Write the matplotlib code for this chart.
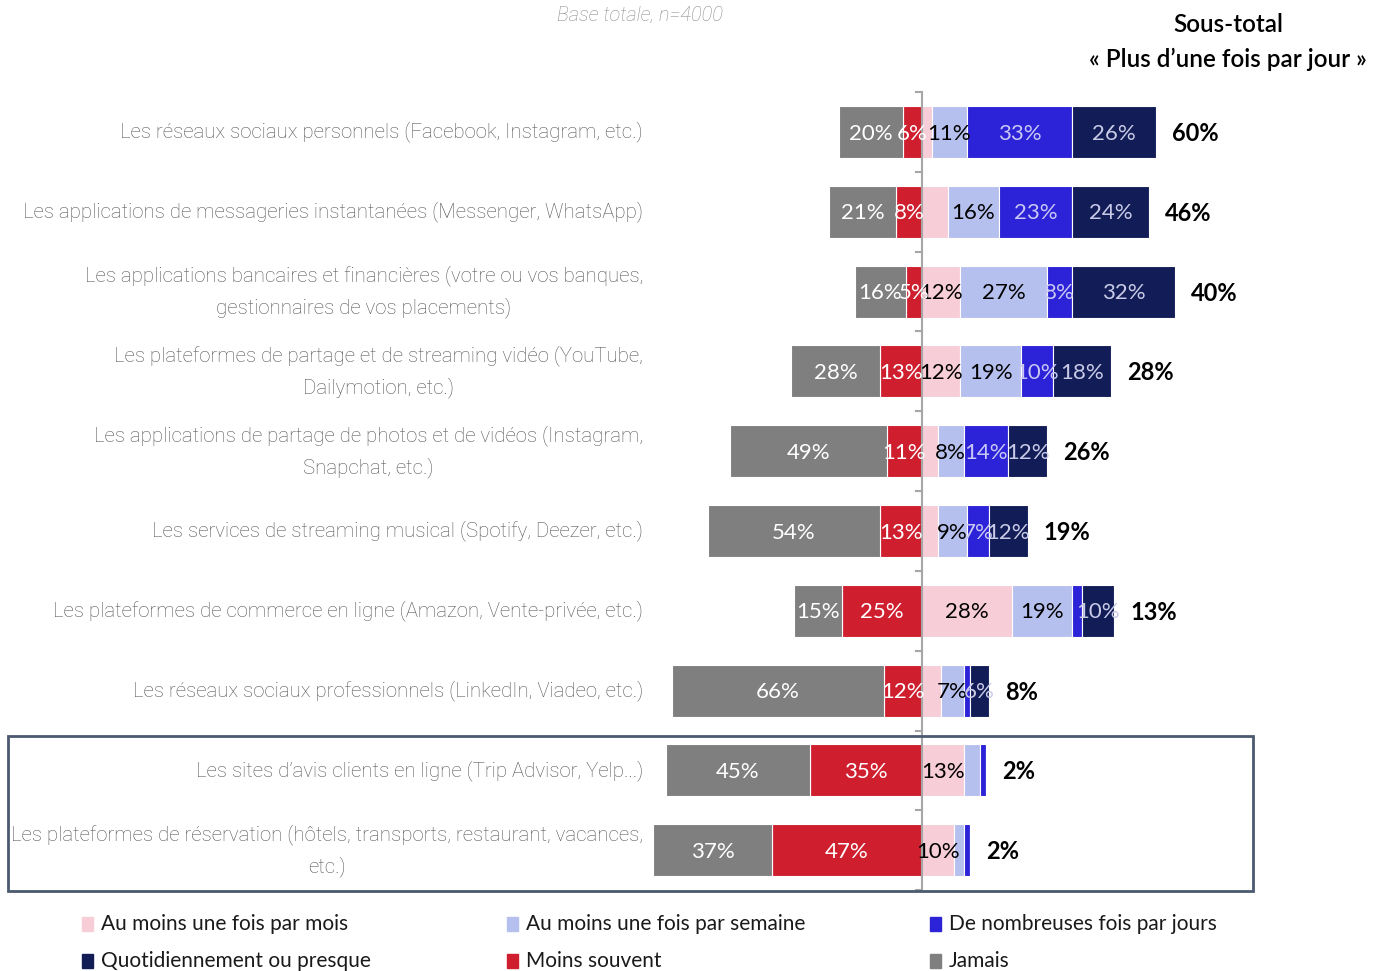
import matplotlib.pyplot as plt
from matplotlib.patches import Rectangle
import numpy as np

plt.rcParams['font.family'] = ['Lato', 'DejaVu Sans']

# Données (en %)
categories = [
    "Les réseaux sociaux personnels (Facebook, Instagram, etc.)",
    "Les applications de messageries instantanées (Messenger, WhatsApp)",
    "Les applications bancaires et financières (votre ou vos banques,\ngestionnaires de vos placements)",
    "Les plateformes de partage et de streaming vidéo (YouTube,\nDailymotion, etc.)",
    "Les applications de partage de photos et de vidéos (Instagram,\nSnapchat, etc.)",
    "Les services de streaming musical (Spotify, Deezer, etc.)",
    "Les plateformes de commerce en ligne (Amazon, Vente-privée, etc.)",
    "Les réseaux sociaux professionnels (LinkedIn, Viadeo, etc.)",
    "Les sites d’avis clients en ligne (Trip Advisor, Yelp...)",
    "Les plateformes de réservation (hôtels, transports, restaurant, vacances,\netc.)",
]
jamais = [20, 21, 16, 28, 49, 54, 15, 66, 45, 37]
moins_souvent = [6, 8, 5, 13, 11, 13, 25, 12, 35, 47]
par_mois = [3, 8, 12, 12, 5, 5, 28, 6, 13, 10]
par_semaine = [11, 16, 27, 19, 8, 9, 19, 7, 5, 3]
nombreuses = [33, 23, 8, 10, 14, 7, 3, 2, 2, 2]
quotidien = [26, 24, 32, 18, 12, 12, 10, 6, 0, 0]
sous_total = [60, 46, 40, 28, 26, 19, 13, 8, 2, 2]

noms_legende = ["Au moins une fois par mois", "Au moins une fois par semaine",
                "De nombreuses fois par jours", "Quotidiennement ou presque",
                "Moins souvent", "Jamais"]

c_gris = '#7f7f7f'
c_rouge = '#cf1f2f'
c_rose = '#f7cdd7'
c_bleu_clair = '#b6c0ef'
c_bleu = '#2c22d8'
c_marine = '#121d58'

police_fine = ['Roboto', 'DejaVu Sans']

W, H = 1374, 971
fig = plt.figure(figsize=(W / 100, H / 100), dpi=100)
ax = fig.add_axes([0, 0, 1, 1])
ax.axis('off')

# échelle : 3.2 px par %, axe central à x=922 px, lignes espacées de 79.8 px
px = 3.2
x0 = 922
ax.set_xlim(-x0 / px, (W - x0) / px)
y_pas = 79.8
y_top = 132
ax.set_ylim((H - y_top) / y_pas, -y_top / y_pas)

y = np.arange(len(categories))
h = 0.65
txt_barre = dict(ha='center', va='center', fontsize=16, zorder=5)

# côté gauche
ax.barh(y, moins_souvent, left=-np.array(moins_souvent), height=h, color=c_rouge,
        edgecolor='white', linewidth=0.8)
gauche_gris = -np.array(moins_souvent) - np.array(jamais)
ax.barh(y, jamais, left=gauche_gris, height=h, color=c_gris, edgecolor='white', linewidth=0.8)

# côté droit
series_droite = [(par_mois, c_rose, 'black', 10),
                 (par_semaine, c_bleu_clair, 'black', 6),
                 (nombreuses, c_bleu, '#c9c8f4', 4),
                 (quotidien, c_marine, '#c9cbe6', 4)]
cumul = np.zeros(len(y))
for vals, col, col_txt, mini in series_droite:
    vals = np.array(vals)
    ax.barh(y, vals, left=cumul, height=h, color=col, edgecolor='white', linewidth=0.8)
    for i, v in enumerate(vals):
        if v >= mini:
            ax.text(cumul[i] + v / 2, y[i] + 0.02, f"{v}%", color=col_txt, **txt_barre)
    cumul += vals

for i in y:
    ax.text(-moins_souvent[i] / 2, i + 0.02, f"{moins_souvent[i]}%", color='white', **txt_barre)
    ax.text(gauche_gris[i] + jamais[i] / 2, i + 0.02, f"{jamais[i]}%", color='white', **txt_barre)
    # sous-total
    ax.text(cumul[i] + 5, i + 0.02, f"{sous_total[i]}%", ha='left', va='center',
            fontsize=17, fontweight='bold', color='black')
    # libellés
    ax.text((643 - x0) / px, i, categories[i], ha='right', va='center', multialignment='center',
            fontsize=14.7, family=police_fine, fontweight='light', color='#555555',
            linespacing=1.68)

# axe vertical et graduations
ax.plot([0, 0], [-0.5, 9.5], color='#a6a6a6', lw=1.5, zorder=4)
for b in np.arange(-0.5, 10):
    ax.plot([-6 / px, 0], [b, b], color='#a6a6a6', lw=1.5, zorder=4)

# encadré des deux dernières lignes
fig.patches.append(Rectangle((8 / W, 1 - 891 / H), (1253 - 8) / W, (891 - 736) / H,
                             transform=fig.transFigure, fill=False,
                             edgecolor='#4b5a70', lw=2))

# titres
fig.text(640 / W, 1 - 15 / H, "Base totale, n=4000", ha='center', va='center',
         fontsize=14.5, style='italic', family=police_fine, fontweight='light', color='#8c8c8c')
fig.text(1228 / W, 1 - 24 / H, "Sous-total", ha='center', va='center', fontsize=17.5,
         fontweight='semibold', color='black')
fig.text(1228 / W, 1 - 59 / H, "« Plus d’une fois par jour »", ha='center', va='center',
         fontsize=17.5, fontweight='semibold', color='black')

# légende
couleurs_legende = [c_rose, c_bleu_clair, c_bleu, c_marine, c_rouge, c_gris]
pos_x = [82, 507, 930]
pos_y = [924, 961]
for k, (nom, col) in enumerate(zip(noms_legende, couleurs_legende)):
    lx = pos_x[k % 3]
    ly = pos_y[k // 3]
    fig.patches.append(Rectangle((lx / W, 1 - (ly + 7) / H), 11 / W, 14 / H,
                                 transform=fig.transFigure, color=col))
    fig.text((lx + 19) / W, 1 - ly / H, nom, ha='left', va='center', fontsize=15, color='#1a1a1a')

fig.savefig('out.png', dpi=100)
